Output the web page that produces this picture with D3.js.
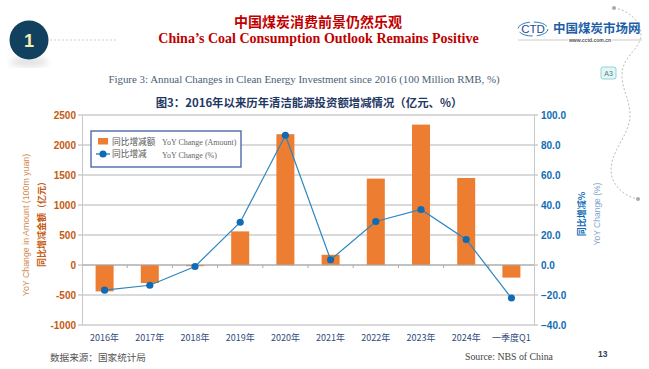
<!DOCTYPE html>
<html>
<head>
<meta charset="utf-8">
<script src="https://cdn.jsdelivr.net/npm/d3@7"></script>
<style>
	html, body { margin: 0; padding: 0; background: #fff; }
	svg { display: block; }
	.serif { font-family: "Liberation Serif", serif; }
	.sans { font-family: "Liberation Sans", sans-serif; }
	.cjk { font-family: "Noto Sans CJK SC", sans-serif; }
</style>
</head>
<body>
<div id="chart"></div>
<script>
// Data
const categories = ["2016年", "2017年", "2018年", "2019年", "2020年", "2021年", "2022年", "2023年", "2024年", "一季度Q1"];
const amountValues = [-440, -300, -20, 560, 2180, 170, 1440, 2340, 1450, -210];
const percentValues = [-16.8, -13.5, -1, 28.5, 86.5, 3.5, 29, 37, 17, -22];
const amountTicks = [-1000, -500, 0, 500, 1000, 1500, 2000, 2500];
const percentTicks = [-40, -20, 0, 20, 40, 60, 80, 100];

const config = {
	width: 649,
	height: 369,
	plot: { left: 82, right: 534, top: 115, bottom: 325 },
	orange: "#ed7d31",
	blue: "#0f6cb4",
	line: "#2e86c1",
	axisOrange: "#c55a11",
	grid: "#b4b4b4",
	navy: "#2f4a7c",
};

const svg = d3.select("#chart").append("svg").attr("width", config.width).attr("height", config.height);

const defs = svg.append("defs");
defs.append("filter").attr("id", "soft").append("feGaussianBlur").attr("stdDeviation", 3);

// Scales
const x = d3.scaleBand().domain(categories).range([config.plot.left, config.plot.right]);
const yLeft = d3.scaleLinear().domain([-1000, 2500]).range([config.plot.bottom, config.plot.top]);
const yRight = d3.scaleLinear().domain([-40, 100]).range([config.plot.bottom, config.plot.top]);

// Slide decoration
svg.append("ellipse").attr("cx", 29).attr("cy", 62).attr("rx", 19).attr("ry", 5).attr("fill", "#e2e2e2").attr("filter", "url(#soft)");
svg.append("circle").attr("cx", 29).attr("cy", 40).attr("r", 19.5).attr("fill", "#12415f");
svg.append("text").attr("class", "sans").attr("x", 29).attr("y", 46.5).attr("text-anchor", "middle").attr("font-size", 18).attr("font-weight", 700).attr("fill", "#f4eeb0").text("1");
svg.append("line").attr("x1", 50).attr("x2", 118).attr("y1", 40).attr("y2", 40).attr("stroke", "#cfcfcf").attr("stroke-dasharray", "2 2");

// Dotted curve on the right edge
svg.append("path")
	.attr("d", "M614,8 C630,10 645,25 640,40 C636,52 622,58 622,75 C622,90 630,100 630,115 C630,135 611,150 611,170 C611,185 625,197 638,199")
	.attr("fill", "none").attr("stroke", "#bbb").attr("stroke-dasharray", "2 2");
svg.append("circle").attr("cx", 614).attr("cy", 8).attr("r", 2).attr("fill", "#aaa");
svg.append("circle").attr("cx", 638).attr("cy", 199).attr("r", 2).attr("fill", "#aaa");

// A3 tag
svg.append("rect").attr("x", 601).attr("y", 67).attr("width", 15).attr("height", 12).attr("rx", 2).attr("fill", "#e3f6f5").attr("stroke", "#8fd6d6");
svg.append("text").attr("class", "sans").attr("x", 608.5).attr("y", 76).attr("text-anchor", "middle").attr("font-size", 7).attr("fill", "#5a7a80").text("A3");

// Titles
svg.append("text").attr("class", "cjk").attr("x", 318).attr("y", 27).attr("text-anchor", "middle").attr("font-size", 14).attr("font-weight", 700).attr("fill", "#c00000").text("中国煤炭消费前景仍然乐观");
svg.append("text").attr("class", "serif").attr("x", 318.5).attr("y", 43).attr("text-anchor", "middle").attr("font-size", 14).attr("font-weight", 700).attr("fill", "#c00000").text("China’s Coal Consumption Outlook Remains Positive");
svg.append("text").attr("class", "serif").attr("x", 304).attr("y", 83).attr("text-anchor", "middle").attr("font-size", 10.9).attr("fill", "#4a6076").text("Figure 3: Annual Changes in Clean Energy Investment since 2016 (100 Million RMB, %)");
svg.append("text").attr("class", "cjk").attr("x", 309).attr("y", 107).attr("text-anchor", "middle").attr("font-size", 11.4).attr("font-weight", 700).attr("fill", "#1f3864").text("图3：2016年以来历年清洁能源投资额增减情况（亿元、%）");

// Logo
svg.append("ellipse").attr("cx", 533).attr("cy", 29).attr("rx", 15).attr("ry", 7).attr("fill", "none").attr("stroke", "#2f7fc1").attr("stroke-width", 1).attr("stroke-dasharray", "14 4");
svg.append("text").attr("class", "sans").attr("x", 533).attr("y", 33).attr("text-anchor", "middle").attr("font-size", 11.5).attr("fill", "#1f4e8c").text("CTD");
svg.append("text").attr("class", "cjk").attr("x", 553).attr("y", 33).attr("font-size", 12.5).attr("font-weight", 700).attr("fill", "#1f5fa8").text("中国煤炭市场网");
svg.append("line").attr("x1", 518).attr("x2", 568).attr("y1", 40).attr("y2", 40).attr("stroke", "#aaa").attr("stroke-width", 0.6);
svg.append("line").attr("x1", 612).attr("x2", 642).attr("y1", 40).attr("y2", 40).attr("stroke", "#aaa").attr("stroke-width", 0.6);
svg.append("text").attr("class", "sans").attr("x", 590).attr("y", 41.5).attr("text-anchor", "middle").attr("font-size", 5).attr("font-weight", 700).attr("fill", "#555").text("www.cctd.com.cn");

// Gridlines
svg.append("g").selectAll("line").data(amountTicks).enter().append("line")
	.attr("x1", config.plot.left - 4)
	.attr("x2", config.plot.right + 4)
	.attr("y1", (d) => yLeft(d))
	.attr("y2", (d) => yLeft(d))
	.attr("stroke", config.grid)
	.attr("stroke-width", 1);

// Left axis
const leftAxis = svg.append("g")
	.attr("transform", "translate(" + config.plot.left + ",0)")
	.call(d3.axisLeft(yLeft).tickValues(amountTicks).tickSize(0).tickPadding(6).tickFormat((d) => String(d)));
leftAxis.select(".domain").attr("stroke", "#c8c8c8");
leftAxis.selectAll("text").attr("class", "sans").attr("font-size", 10).attr("font-weight", 700).attr("fill", config.axisOrange);

// Right axis
const rightAxis = svg.append("g")
	.attr("transform", "translate(" + config.plot.right + ",0)")
	.call(d3.axisRight(yRight).tickValues(percentTicks).tickSize(0).tickPadding(7).tickFormat(d3.format(".1f")));
rightAxis.select(".domain").attr("stroke", "#c8c8c8");
rightAxis.selectAll("text").attr("class", "sans").attr("font-size", 10).attr("font-weight", 700).attr("fill", config.blue);

// Bars
svg.append("g").selectAll("rect").data(categories).enter().append("rect")
	.attr("x", (d) => x(d) + (x.bandwidth() - 18) / 2)
	.attr("width", 18)
	.attr("y", (d, i) => yLeft(Math.max(0, amountValues[i])))
	.attr("height", (d, i) => Math.abs(yLeft(amountValues[i]) - yLeft(0)))
	.attr("fill", config.orange);

// Zero axis with tick marks between categories
svg.append("line")
	.attr("x1", config.plot.left).attr("x2", config.plot.right)
	.attr("y1", yLeft(0)).attr("y2", yLeft(0))
	.attr("stroke", "#aaa");
svg.append("g").selectAll("line").data(categories.slice(1)).enter().append("line")
	.attr("x1", (d) => x(d)).attr("x2", (d) => x(d))
	.attr("y1", yLeft(0)).attr("y2", yLeft(0) + 3)
	.attr("stroke", "#aaa");

// Line series
const line = d3.line().x((d, i) => x(categories[i]) + x.bandwidth() / 2).y((d) => yRight(d));
svg.append("path").datum(percentValues).attr("d", line).attr("fill", "none").attr("stroke", config.line).attr("stroke-width", 1.2);
svg.append("g").selectAll("circle").data(percentValues).enter().append("circle")
	.attr("cx", (d, i) => x(categories[i]) + x.bandwidth() / 2)
	.attr("cy", (d) => yRight(d))
	.attr("r", 3.6)
	.attr("fill", config.blue);

// Category labels
svg.append("g").selectAll("text").data(categories).enter().append("text")
	.attr("class", "cjk")
	.attr("x", (d) => x(d) + x.bandwidth() / 2)
	.attr("y", 341)
	.attr("text-anchor", "middle")
	.attr("font-size", 9)
	.attr("fill", config.navy)
	.text((d) => d);

// Legend
const legend = svg.append("g");
legend.append("rect").attr("x", 91).attr("y", 131).attr("width", 150).attr("height", 36).attr("fill", "#fff").attr("stroke", "#3f5fa5").attr("stroke-width", 1.3);
legend.append("rect").attr("x", 98).attr("y", 138).attr("width", 10).attr("height", 6.5).attr("fill", config.orange);
legend.append("line").attr("x1", 96).attr("x2", 110).attr("y1", 154).attr("y2", 154).attr("stroke", config.blue).attr("stroke-width", 1.2);
legend.append("circle").attr("cx", 103).attr("cy", 154).attr("r", 3.6).attr("fill", config.blue);
legend.append("text").attr("class", "cjk").attr("x", 112).attr("y", 144.5).attr("font-size", 8.7).attr("fill", "#555").text("同比增减额");
legend.append("text").attr("class", "cjk").attr("x", 112).attr("y", 157).attr("font-size", 8.7).attr("fill", "#555").text("同比增减");
legend.append("text").attr("class", "serif").attr("x", 162).attr("y", 144.5).attr("font-size", 8).attr("fill", "#666").text("YoY Change (Amount)");
legend.append("text").attr("class", "serif").attr("x", 162).attr("y", 158).attr("font-size", 8).attr("fill", "#666").text("YoY Change (%)");

// Axis titles
svg.append("text").attr("class", "sans").attr("transform", "translate(29,225) rotate(-90)").attr("text-anchor", "middle").attr("font-size", 8.8).attr("fill", "#d08a50").text("YoY Change in Amount (100m yuan)");
svg.append("text").attr("class", "cjk").attr("transform", "translate(45,222) rotate(-90)").attr("text-anchor", "middle").attr("font-size", 9).attr("font-weight", 700).attr("fill", config.axisOrange).text("同比增减金额（亿元）");
svg.append("text").attr("class", "cjk").attr("transform", "translate(585,214) rotate(-90)").attr("text-anchor", "middle").attr("font-size", 9).attr("font-weight", 700).attr("fill", config.blue).text("同比增减%");
svg.append("text").attr("class", "sans").attr("transform", "translate(600,214) rotate(-90)").attr("text-anchor", "middle").attr("font-size", 8.5).attr("fill", "#7fa6cc").text("YoY Change (%)");

// Footer
svg.append("text").attr("class", "cjk").attr("x", 50).attr("y", 361).attr("font-size", 9.6).attr("fill", "#555").text("数据来源：国家统计局");
svg.append("text").attr("class", "serif").attr("x", 465).attr("y", 360).attr("font-size", 9.8).attr("fill", "#444").text("Source: NBS of China");
svg.append("text").attr("class", "sans").attr("x", 598).attr("y", 356.5).attr("font-size", 8.5).attr("font-weight", 700).attr("fill", "#2f3e5c").text("13");
</script>
</body>
</html>
